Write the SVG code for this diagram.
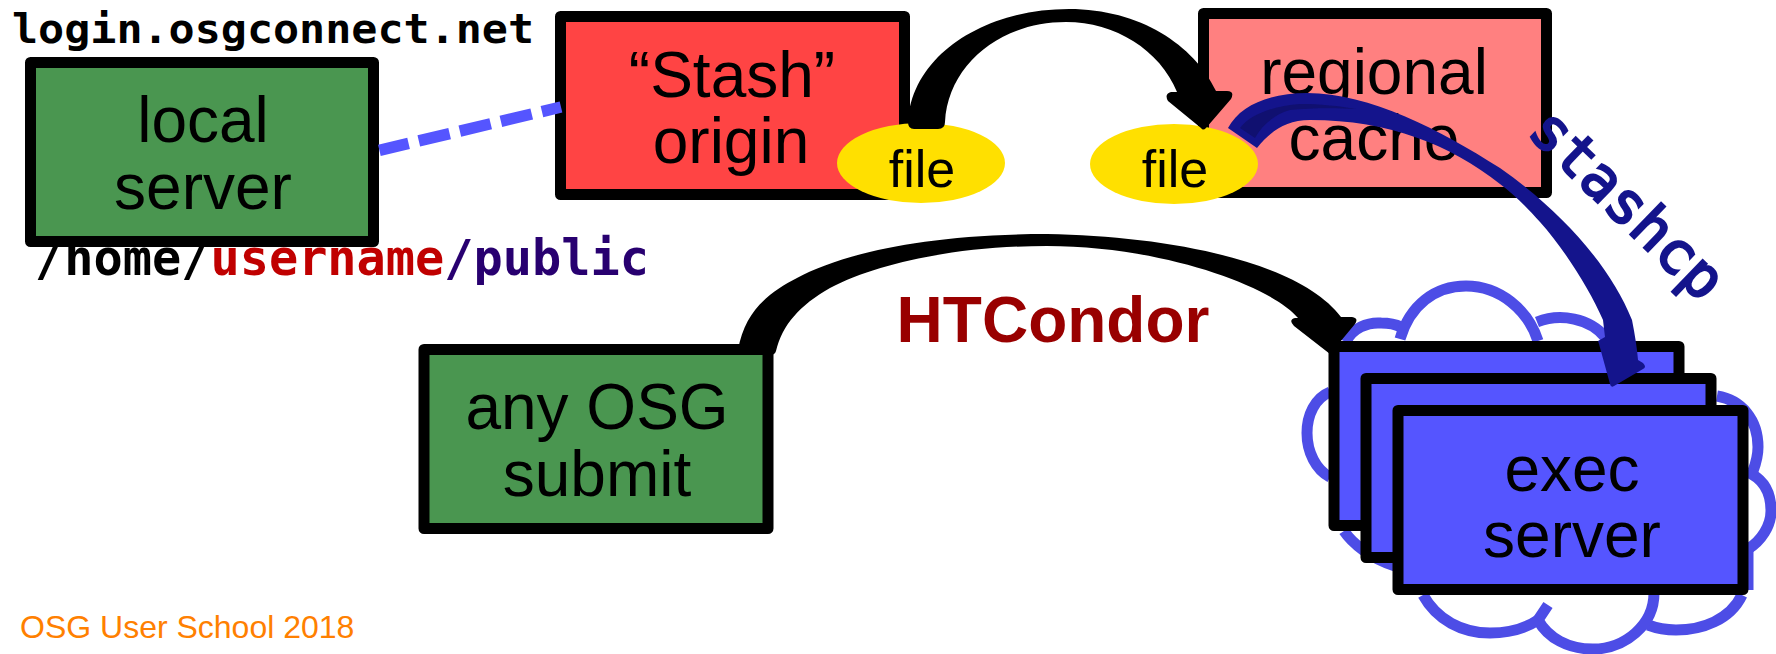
<svg xmlns="http://www.w3.org/2000/svg" width="1776" height="654" viewBox="0 0 1776 654">
<style>
.box{stroke:#000;stroke-width:11;stroke-linejoin:round}
.lbl{font-family:"Liberation Sans",Arial,sans-serif;font-size:64px;fill:#000;text-anchor:middle}
.fl{font-size:52px}
.mono{font-family:"DejaVu Sans Mono",monospace;font-weight:bold}
.cl{fill:none;stroke:#4d4de6;stroke-width:11}
.navy{fill:#14148c}
</style>
<rect width="1776" height="654" fill="#fff"/>
<g id="path-label"><text class="mono" x="35" y="275" font-size="49" textLength="614" lengthAdjust="spacingAndGlyphs"><tspan fill="#000">/home/</tspan><tspan fill="#c00000">username</tspan><tspan fill="#280070">/public</tspan></text></g>
<g id="login-label"><text class="mono" x="12" y="42.5" font-size="40" fill="#000" textLength="522" lengthAdjust="spacingAndGlyphs">login.osgconnect.net</text></g>
<g id="local-server"><rect class="box" x="30.5" y="62.5" width="343" height="179" fill="#4a9650"/><text class="lbl" x="203" y="141.5">local</text><text class="lbl" x="203" y="208.5">server</text></g>
<g id="stash-origin"><rect class="box" x="560.5" y="16.5" width="344" height="178" fill="#ff4444"/><text class="lbl" x="732" y="96.5">“Stash”</text><text class="lbl" x="731" y="162.5">origin</text></g>
<g id="regional-cache"><rect class="box" x="1203.5" y="13.5" width="343" height="179" fill="#ff8080"/><text class="lbl" x="1374" y="93.5">regional</text><text class="lbl" x="1374" y="160">cache</text></g>
<g id="file-origin"><ellipse cx="921" cy="163" rx="84" ry="40" fill="#ffe000"/><text class="lbl fl" x="922" y="186.5">file</text></g>
<g id="file-cache"><ellipse cx="1174" cy="164" rx="84" ry="40" fill="#ffe000"/><text class="lbl fl" x="1175" y="186.5">file</text></g>
<g id="any-osg-submit"><rect class="box" x="424" y="349.5" width="344" height="179" fill="#4a9650"/><text class="lbl" x="597" y="428.5">any OSG</text><text class="lbl" x="597" y="496">submit</text></g>
<g id="cloud">
<path class="cl" d="M1346,342C1352,328 1368,322 1381,323C1388,323 1395,324 1401,327"/>
<path class="cl" d="M1400,339C1410,305 1435,286 1466,286C1500,286 1528,310 1538,341"/>
<path class="cl" d="M1537,322C1560,313 1590,318 1606,338"/>
<path class="cl" d="M1330,392C1315,398 1307,415 1307,433C1307,452 1316,470 1330,477"/>
<path class="cl" d="M1344,531C1352,543 1370,558 1395,566"/>
<path class="cl" d="M1717,396C1742,400 1758,420 1758,447C1758,455 1756,463 1753,471"/>
<path class="cl" d="M1747,472C1762,478 1771,490 1771,511C1771,526 1761,541 1748,549"/>
<path class="cl" d="M1748,549L1748,590"/>
<path class="cl" d="M1742,595C1730,620 1702,630 1676,630C1665,630 1656,628 1648,625"/>
<path class="cl" d="M1654,593C1654,625 1625,649 1593,649C1568,649 1548,638 1538,620L1548,605"/>
<path class="cl" d="M1423,595C1437,620 1462,633 1490,633C1510,633 1526,628 1538,620"/>
</g>
<g id="exec-server">
<rect class="box" x="1334" y="346.5" width="345" height="179" fill="#5555ff"/>
<rect class="box" x="1366" y="378.5" width="345" height="179" fill="#5555ff"/>
<rect class="box" x="1398" y="410.5" width="345" height="179" fill="#5555ff"/>
<text class="lbl" x="1572" y="491">exec</text><text class="lbl" x="1572" y="557">server</text>
</g>
<g id="htcondor-label"><text x="1053" y="341.5" font-family="Liberation Sans,Arial,sans-serif" font-weight="bold" font-size="64" fill="#990000" text-anchor="middle">HTCondor</text></g>
<g id="stashcp-label"><text class="mono" x="1625" y="223" font-size="58" text-anchor="middle" fill="#14148c" stroke="#14148c" stroke-width="2.4" style="font-weight:normal" transform="rotate(44 1625 207)">stashcp</text></g>
<g id="footer"><text x="20" y="637.5" font-family="Liberation Sans,Arial,sans-serif" font-size="32" fill="#ff8000">OSG User School 2018</text></g>
<g id="connectors">
<path d="M379.4,150.3L561,107" fill="none" stroke="#5555ff" stroke-width="11.5" stroke-dasharray="31.7 10.5" stroke-dashoffset="1.7"/>
<path d="M908,122C912,55 985,9 1069,9C1140,9 1194,45 1216,91L1227,91Q1235,91 1231,99L1206,128Q1203,131 1201,128L1168,101Q1164,94 1171,92L1177,92C1160,50 1115,22 1066,22C1000,22 948,65 945,122Q945,129 938,129L914,129Q908,129 908,122Z" fill="#000"/>
<path d="M738,350C745,310 770,292 797,278C840,255 920,234 1047,234C1170,236 1300,262 1341,317L1352,317Q1359,318 1355,324L1330,354L1294,326Q1288,320 1295,318L1298,318C1270,285 1160,246 1047,246C960,246 880,262 830,288C800,305 782,325 776,351Q775,355 770,355L738,355Z" fill="#000"/>
<path class="navy" d="M1228,128C1240,105 1270,93 1307,93C1370,93 1440,130 1500,168C1560,210 1610,265 1632,320C1635,335 1637,348 1638,360L1643,363Q1647,367 1643,369L1614,386Q1611,388 1610,384L1599,344L1598,341L1605,337L1603,320C1590,290 1565,250 1540,222C1525,205 1512,193 1500,184C1450,145 1390,120 1310,120C1285,120 1270,132 1257,148Z"/>
<path d="M1240,128C1250,115 1272,106 1300,104C1320,104 1340,106 1356,109C1335,108 1310,108 1290,110C1275,114 1262,125 1255,138Z" fill="#101070"/>
</g>
</svg>
